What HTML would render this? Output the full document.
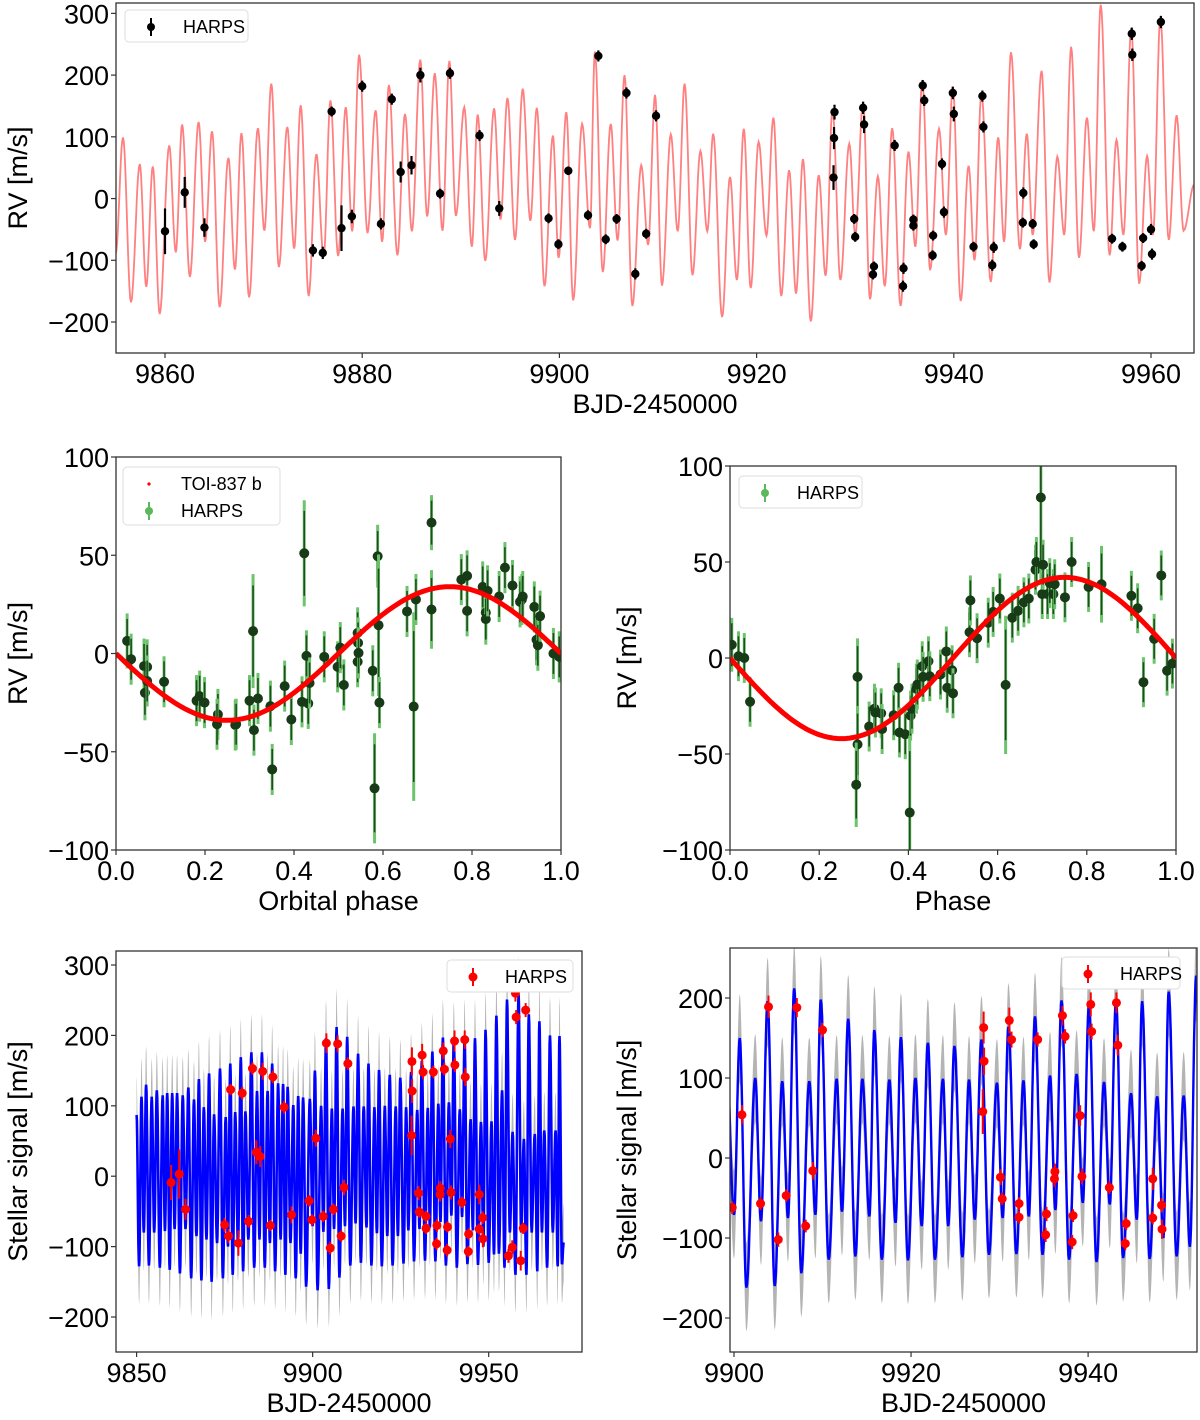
<!DOCTYPE html>
<html><head><meta charset="utf-8"><title>TOI-837 RV figure</title>
<style>
html,body{margin:0;padding:0;background:#fff;}
svg{display:block;font-family:"Liberation Sans",sans-serif;}
</style></head>
<body>
<svg id="fig" width="1200" height="1420" viewBox="0 0 1200 1420" xmlns="http://www.w3.org/2000/svg"></svg>
<script>
// ---------- DATA ----------
// Top panel: HARPS RVs
const rvT = [9860.0,9862.0,9864.0,9875.0,9876.0,9876.9,9877.9,9878.95,9880.0,9881.9,9883.0,9883.9,9885.0,9885.9,9887.9,9888.9,9891.9,9893.9,9898.9,9899.9,9900.9,9902.9,9903.95,9904.7,9905.8,9906.8,9907.7,9908.8,9909.8,9927.9,9927.85,9927.8,9929.9,9930.0,9930.8,9930.9,9931.9,9931.8,9934.0,9934.9,9934.85,9935.9,9935.9,9936.85,9937.0,9937.9,9937.85,9938.8,9939.0,9939.9,9940.0,9942.0,9942.9,9943.0,9943.9,9944.05,9947.05,9947.0,9948.0,9948.1,9956.05,9957.1,9958.05,9958.1,9959.05,9959.2,9960.0,9960.1,9961.0];
const rvV = [-53,10,-47,-84,-88,141,-48,-29,182,-41,161,43,54,200,8,203,102,-16,-32,-74,45,-27,231,-66,-33,171,-122,-57,134,140,98,34,-33,-62,147,120,-110,-123,86,-113,-142,-34,-44,183,159,-60,-92,56,-22,171,137,-78,166,116,-108,-79,9,-39,-41,-74,-65,-78,267,233,-109,-64,-50,-90,286];
const rvE = [37,25,15,10,10,8,37,11,9,9,9,17,15,12,8,9,9,12,8,8,7,8,9,8,8,9,9,8,9,12,18,20,8,8,10,14,8,8,9,9,9,8,8,9,9,8,8,9,9,10,12,8,9,9,9,9,9,8,8,8,8,8,10,10,8,8,9,9,10];
// Top panel: model curve extrema (time, value)
const modelT = [9855.0,9855.74,9856.55,9857.44,9858.1,9858.76,9859.46,9860.43,9861.09,9861.74,9862.52,9863.41,9864.07,9864.77,9865.54,9866.43,9867.09,9867.75,9868.53,9869.42,9870.08,9870.78,9871.55,9872.4,9873.1,9873.76,9874.57,9875.35,9876.09,9876.78,9877.56,9878.33,9878.99,9879.69,9880.54,9881.36,9882.02,9882.71,9883.57,9884.34,9885.04,9885.89,9886.59,9887.36,9888.14,9888.84,9889.5,9890.35,9891.12,9891.71,9892.48,9893.37,9894.03,9894.73,9895.5,9896.28,9897.05,9897.71,9898.49,9899.34,9899.92,9900.7,9901.4,9902.3,9903.1,9903.6,9904.4,9905.2,9905.9,9906.6,9907.4,9908.3,9909.0,9909.7,9910.4,9911.3,9912.0,9912.7,9913.5,9914.3,9915.0,9915.6,9916.5,9917.3,9918.0,9918.7,9919.4,9920.2,9921.0,9921.7,9922.5,9923.3,9924.0,9924.7,9925.5,9926.3,9927.0,9927.7,9928.5,9929.4,9930.0,9930.8,9931.5,9932.3,9933.0,9933.75,9934.6,9935.4,9936.1,9936.8,9937.6,9938.5,9939.2,9939.9,9940.7,9941.5,9942.1,9942.8,9943.75,9944.5,9945.1,9945.8,9946.7,9947.4,9948.0,9948.9,9949.7,9950.5,9951.2,9951.9,9952.7,9953.5,9954.2,9954.9,9955.8,9956.5,9957.2,9958.0,9958.8,9959.6,9960.2,9960.95,9961.8,9962.6,9963.3,9964.4];
const modelV = [-89,99,-168,56,-143,52,-187,86,-87,120,-127,124,-70,109,-176,66,-115,106,-160,114,-52,186,-111,116,-81,151,-158,72,-95,159,-93,148,-53,233,-56,143,-70,184,-92,137,-53,225,-29,203,-52,223,-28,148,-78,136,-101,146,-34,163,-67,178,-36,147,-142,102,-96,140,-165,121,-48,238,-119,121,-68,200,-174,54,-75,168,-141,104,-53,186,-124,77,-53,105,-192,35,-132,113,-145,92,-60,131,-158,46,-154,64,-199,38,-125,145,-132,89,-59,156,-163,36,-142,114,-174,76,-78,192,-116,113,-59,182,-166,53,-100,170,-135,99,-70,237,-82,105,-59,207,-136,68,-59,246,-96,131,-53,314,-92,95,-59,276,-138,69,-59,293,-67,135,-52,23];
const topXTicks = [9860,9880,9900,9920,9940,9960];
const topYTicks = [-200,-100,0,100,200,300];

// Middle-left: phase-folded TOI-837 b
const ph1 = [0.025,0.034,0.063,0.065,0.07,0.07,0.108,0.181,0.188,0.199,0.229,0.227,0.268,0.27,0.30,0.308,0.31,0.319,0.351,0.347,0.379,0.394,0.423,0.418,0.428,0.432,0.435,0.468,0.498,0.504,0.512,0.543,0.544,0.543,0.545,0.577,0.581,0.588,0.59,0.592,0.654,0.669,0.674,0.709,0.709,0.776,0.789,0.789,0.824,0.831,0.831,0.835,0.861,0.874,0.891,0.908,0.912,0.914,0.94,0.945,0.948,0.953,0.983,0.996];
const ph1V = [6.4,-2.9,-6.4,-20,-6.8,-14,-14.4,-24,-21.7,-25,-31,-36,-36.4,-36,-24,11.4,-39,-22.9,-59,-26.8,-16.6,-33.6,51,-24.6,-1.2,-25.4,-15,-1.7,-6.8,3,-16,10.5,5.4,-4.2,0.3,-8.8,-68.6,49.5,14.4,-25,21.4,-27,27.5,66.6,22.4,37.6,39.5,21.7,33.9,20.8,17.5,31.9,29,43.7,34.6,26.3,27.5,29,23.7,7,4.2,19,0,-1.7];
const ph1E = [14,13,14,14,14,13,13,13,13,13,13,13,13,13,13,29,13,13,13,13,13,13,27,13,13,13,13,13,13,13,13,13,13,13,13,13,28,16,36,13,13,48,13,14,20,13,13,13,13,13,13,13,13,13,13,13,13,13,13,13,13,13,13,13];
const planetK1 = [34];
const phaseTicks = [0.0,0.2,0.4,0.6,0.8,1.0];
const phaseLabels = ["0.0","0.2","0.4","0.6","0.8","1.0"];
const midYTicks = [-100,-50,0,50,100];

// Middle-right: phase-folded
const ph2 = [0.004,0.019,0.032,0.045,0.286,0.286,0.283,0.312,0.324,0.326,0.339,0.341,0.367,0.378,0.38,0.393,0.403,0.405,0.408,0.418,0.42,0.431,0.433,0.445,0.448,0.472,0.485,0.487,0.498,0.5,0.537,0.539,0.554,0.579,0.59,0.605,0.618,0.633,0.646,0.659,0.67,0.685,0.687,0.697,0.7,0.702,0.712,0.717,0.725,0.728,0.751,0.766,0.804,0.833,0.9,0.914,0.951,0.967,0.927,0.98,0.992];
const ph2V = [6.9,0.9,0,-22.8,-9.8,-45,-66,-35.7,-26.4,-28.4,-28.8,-37,-29.8,-15.5,-38.8,-39.7,-80.5,-30,-26.4,-16,-13.8,-4.3,-9.8,-1.7,-9.5,-8.6,3.4,-15.5,-6.4,-18.4,13.4,30,10.3,18.4,24,31,-14,21,24.6,29,31,46,50,83.6,33.3,48.6,33.3,39,33.3,38.4,31.6,50,37,38.4,32.4,25.9,10,43,-12.6,-6.6,-2.9];
const ph2E = [14,13,13,13,20,20,22,13,13,13,13,13,13,13,13,13,40,13,13,13,13,13,13,13,13,13,13,13,13,13,13,13,13,13,13,13,36,13,13,13,13,13,13,45,13,13,13,13,13,13,13,13,13,20,13,13,13,13,13,13,13];
const planetK2 = [42];

// Bottom: stellar signal model extrema (time, value) and HARPS stellar residuals
const starT = [9850.0,9850.7,9851.4,9852.05,9852.7,9853.5,9854.3,9855.0,9855.75,9856.6,9857.4,9858.05,9858.7,9859.4,9860.1,9860.8,9861.5,9862.3,9863.1,9863.9,9864.7,9865.5,9866.3,9867.0,9867.7,9868.4,9869.1,9869.85,9870.6,9871.3,9872.0,9872.85,9873.7,9874.5,9875.3,9875.95,9876.6,9877.3,9878.0,9878.8,9879.6,9880.25,9880.9,9881.75,9882.6,9883.4,9884.2,9884.9,9885.6,9886.4,9887.2,9887.85,9888.5,9889.35,9890.2,9890.9,9891.6,9892.25,9892.9,9893.7,9894.5,9895.2,9895.9,9896.6,9897.3,9898.15,9899.2,9900.0,9900.65,9901.4,9902.4,9903.05,9903.8,9904.6,9905.45,9906.1,9906.8,9907.6,9908.5,9909.2,9909.8,9910.7,9911.6,9912.2,9912.9,9913.7,9914.5,9915.3,9915.85,9916.7,9917.55,9918.25,9918.85,9919.65,9920.5,9921.2,9921.9,9922.7,9923.6,9924.2,9924.9,9925.8,9926.55,9927.2,9927.95,9928.8,9929.7,9930.35,9931.0,9931.9,9932.7,9933.3,9934.0,9934.85,9935.7,9936.3,9937.0,9937.85,9938.7,9939.4,9940.1,9940.95,9941.8,9942.45,9943.15,9943.95,9944.85,9945.5,9946.1,9946.95,9947.8,9948.5,9949.1,9950.0,9950.8,9951.5,9952.2,9952.9,9953.8,9954.5,9955.2,9956.0,9956.8,9957.6,9958.5,9959.2,9960.0,9960.7,9961.4,9962.2,9963.1,9963.8,9964.4,9965.1,9965.8,9966.6,9967.4,9968.2,9969.0,9969.6,9970.1,9970.8,9971.3];
const starV = [87,-128,113,-80,130,-127,113,-80,122,-130,115,-78,118,-133,118,-75,118,-138,115,-75,126,-145,109,-85,138,-148,98,-90,146,-150,88,-95,153,-145,84,-100,160,-140,91,-95,169,-135,92,-90,176,-130,121,-90,176,-130,121,-95,160,-135,132,-90,131,-140,127,-95,101,-145,114,-110,112,-157,110,-71,150,-162,100,-79,196,-160,96,-75,212,-144,96,-71,198,-127,99,-67,174,-123,99,-73,160,-127,98,-81,151,-128,100,-85,144,-127,99,-85,140,-124,98,-77,148,-121,94,-75,164,-120,97,-73,177,-121,103,-65,197,-127,105,-56,193,-130,95,-58,197,-125,81,-77,196,-126,77,-100,208,-123,78,-111,228,-110,122,-130,251,-80,63,-140,258,-80,53,-140,230,-80,60,-135,220,-80,65,-130,200,-80,65,-128,199,-125,-94];
const gpSigma = [55];
const resT = [9859.8,9862.1,9863.9,9875.0,9876.1,9876.7,9878.9,9880.0,9881.8,9882.9,9884.0,9885.1,9885.8,9888.0,9888.7,9891.9,9894.0,9899.0,9899.8,9900.9,9903.0,9903.9,9905.0,9905.9,9907.1,9908.1,9908.9,9910.0,9928.2,9928.25,9928.1,9930.1,9930.3,9931.1,9931.35,9932.2,9932.2,9934.3,9935.3,9935.2,9936.2,9936.25,9937.1,9937.4,9938.3,9938.2,9939.1,9939.3,9940.3,9940.4,9942.4,9943.2,9943.35,9944.3,9944.2,9947.3,9947.3,9948.3,9948.35,9955.6,9956.7,9957.6,9957.8,9959.1,9959.8,9960.5];
const resV = [-9,3,-47,-69,-85,123,-95,118,-64,153,34,28,149,-70,141,98,-55,-35,-62,54,-57,189,-102,-47,188,-85,-16,160,163,121,58,-24,-51,172,148,-57,-74,148,-70,-96,-26,-17,178,152,-72,-105,53,-23,192,158,-37,194,141,-82,-107,-26,-75,-59,-89,-113,-101,260,226,-120,-74,236];
const resE = [25,35,15,10,10,8,18,9,9,9,17,15,12,8,9,9,12,8,8,12,8,14,9,8,12,8,11,9,20,17,28,10,8,16,10,8,8,9,9,9,10,10,12,9,8,9,13,10,15,10,8,13,13,8,8,14,8,9,12,10,10,12,10,14,8,10];
const blXTicks = [9850,9900,9950];
const blYTicks = [-200,-100,0,100,200,300];
const brXTicks = [9900,9920,9940];
const brYTicks = [-200,-100,0,100,200];

// ---------- DRAWING ----------
const NS = "http://www.w3.org/2000/svg";
const svg = document.getElementById('fig');
function mk(tag, parent){ const e=document.createElementNS(NS,tag); parent.appendChild(e); return e; }
function fmt(v){ return (v<0?"\u2212":"")+Math.abs(v); }

function makePanel(p){
  p.sx = v => p.left + (v - p.xmin)/(p.xmax - p.xmin)*(p.right - p.left);
  p.sy = v => p.bottom - (v - p.ymin)/(p.ymax - p.ymin)*(p.bottom - p.top);
  const g = mk('g', svg);
  
  
  p.g = g;
  const cp = mk('clipPath', g); cp.setAttribute('id', p.name+'-clip');
  const cr = mk('rect', cp);
  cr.setAttribute('x', p.left); cr.setAttribute('y', p.top);
  cr.setAttribute('width', p.right-p.left); cr.setAttribute('height', p.bottom-p.top);
  const plot = mk('g', g);
  plot.setAttribute('clip-path', 'url(#'+p.name+'-clip)');
  
  
  p.plot = plot;
  return p;
}
function drawAxes(p){
  const g = p.g;
  const fr = mk('rect', g);
  
  
  fr.setAttribute('x', p.left); fr.setAttribute('y', p.top);
  fr.setAttribute('width', p.right-p.left); fr.setAttribute('height', p.bottom-p.top);
  fr.setAttribute('fill', 'none'); fr.setAttribute('stroke', '#333'); fr.setAttribute('stroke-width', '1.3');
  p.xticks.forEach((v,i)=>{
    const x = p.sx(v);
    const t = mk('line', g);
    
    
    t.setAttribute('x1', x); t.setAttribute('x2', x); t.setAttribute('y1', p.bottom); t.setAttribute('y2', p.bottom+5);
    t.setAttribute('stroke', '#333'); t.setAttribute('stroke-width', '1.2');
    const tx = mk('text', g);
    
    
    tx.setAttribute('x', x); tx.setAttribute('y', p.bottom+30);
    tx.setAttribute('text-anchor', 'middle'); tx.setAttribute('font-size', '27');
    tx.textContent = p.xlabels ? p.xlabels[i] : fmt(v);
  });
  p.yticks.forEach(v=>{
    const y = p.sy(v);
    const t = mk('line', g);
    
    
    t.setAttribute('x1', p.left-5); t.setAttribute('x2', p.left); t.setAttribute('y1', y); t.setAttribute('y2', y);
    t.setAttribute('stroke', '#333'); t.setAttribute('stroke-width', '1.2');
    const tx = mk('text', g);
    
    
    tx.setAttribute('x', p.left-7); tx.setAttribute('y', y+10);
    tx.setAttribute('text-anchor', 'end'); tx.setAttribute('font-size', '27');
    tx.textContent = fmt(v);
  });
  const xl = mk('text', g);
  
  
  xl.setAttribute('x', (p.left+p.right)/2); xl.setAttribute('y', p.bottom+60);
  xl.setAttribute('text-anchor', 'middle'); xl.setAttribute('font-size', '27');
  xl.textContent = p.xtitle;
  const yl = mk('text', g);
  
  
  const cy = (p.top+p.bottom)/2 + (p.ytOff||0);
  yl.setAttribute('transform', 'translate('+p.ytx+','+cy+') rotate(-90)');
  yl.setAttribute('text-anchor', 'middle'); yl.setAttribute('font-size', '27');
  yl.textContent = p.ytitle;
}
function cosCurve(T, V, n){
  const pts = [];
  for(let i=0;i<T.length-1;i++){
    for(let k=0;k<n;k++){
      const f = k/n;
      pts.push([T[i]+(T[i+1]-T[i])*f, V[i]+(V[i+1]-V[i])*(1-Math.cos(Math.PI*f))/2]);
    }
  }
  pts.push([T[T.length-1], V[V.length-1]]);
  return pts;
}
function pathFrom(p, pts, dy){
  return pts.map((q,i)=>(i?'L':'M')+p.sx(q[0]).toFixed(1)+','+p.sy(q[1]+(dy||0)).toFixed(1)).join('');
}
function errPoints(p, X, Y, E, o){
  X.forEach((x,i)=>{
    const cx = p.sx(x), cy = p.sy(Y[i]);
    const grp = mk('g', p.plot);
    
    
    if(o.bar2){
      const b2 = mk('line', grp);
      b2.setAttribute('x1', cx); b2.setAttribute('x2', cx);
      b2.setAttribute('y1', p.sy(Y[i]-E[i])); b2.setAttribute('y2', p.sy(Y[i]+E[i]));
      b2.setAttribute('stroke', o.bar2); b2.setAttribute('stroke-width', o.bw2);
    }
    const b = mk('line', grp);
    b.setAttribute('x1', cx); b.setAttribute('x2', cx);
    b.setAttribute('y1', p.sy(Y[i]-E[i]*(o.bar2?0.8:1))); b.setAttribute('y2', p.sy(Y[i]+E[i]*(o.bar2?0.8:1)));
    b.setAttribute('stroke', o.bar); b.setAttribute('stroke-width', o.bw);
    const c = mk('circle', grp);
    c.setAttribute('cx', cx); c.setAttribute('cy', cy); c.setAttribute('r', o.r);
    c.setAttribute('fill', o.fill);
  });
}
function legend(p, x, y, w, h, entries){
  const g = mk('g', p.g);
  
  
  const r = mk('rect', g);
  r.setAttribute('x', x); r.setAttribute('y', y); r.setAttribute('width', w); r.setAttribute('height', h);
  r.setAttribute('rx', 4); r.setAttribute('fill', '#fff'); r.setAttribute('stroke', '#ddd');
  entries.forEach((e,i)=>{
    const ey = y + 17 + i*27;
    const eg = mk('g', g);
    
    
    if(e.bar){
      const l = mk('line', eg);
      l.setAttribute('x1', x+26); l.setAttribute('x2', x+26); l.setAttribute('y1', ey-9); l.setAttribute('y2', ey+9);
      l.setAttribute('stroke', e.bar); l.setAttribute('stroke-width', 2);
    }
    const c = mk('circle', eg);
    c.setAttribute('cx', x+26); c.setAttribute('cy', ey); c.setAttribute('r', e.r); c.setAttribute('fill', e.color);
    const t = mk('text', eg);
    t.setAttribute('x', x+58); t.setAttribute('y', ey+6); t.setAttribute('font-size', '18');
    t.textContent = e.label;
  });
}

// Panel 1: RV time series
const P1 = makePanel({name:'rv-time-panel', left:116, right:1194, top:3, bottom:353, xmin:9855.03, xmax:9964.36, ymin:-250.2, ymax:316.8,
  xticks:topXTicks, yticks:topYTicks, xtitle:'BJD-2450000', ytitle:'RV [m/s]', ytx:27});
const m1 = mk('path', P1.plot);


m1.setAttribute('d', pathFrom(P1, cosCurve(modelT, modelV, 10)));
m1.setAttribute('fill', 'none'); m1.setAttribute('stroke', '#ff8080'); m1.setAttribute('stroke-width', '1.8');
errPoints(P1, rvT, rvV, rvE, {bar:'#000', bw:2.2, r:4.2, fill:'#000'});
drawAxes(P1);
legend(P1, 125, 10, 123, 32, [{label:'HARPS', color:'#000', r:4, bar:'#000'}]);

// Panel 2 & 3: phase folded
function phasePanel(cfg, ph, V, E, K){
  const P = makePanel(cfg);
  const pts = [];
  for(let i=0;i<=200;i++){ const f=i/200; pts.push([f, -K[0]*Math.sin(2*Math.PI*f)]); }
  errPoints(P, ph, V, E, {bar:'#1e4d1e', bw:1.6, bar2:'#6cc36c', bw2:3, r:5, fill:'#173a17'});
  const m = mk('path', P.plot);
  
  
  m.setAttribute('d', pathFrom(P, pts));
  m.setAttribute('fill', 'none'); m.setAttribute('stroke', '#ff0000'); m.setAttribute('stroke-width', '5');
  drawAxes(P);
  return P;
}
const P2 = phasePanel({name:'orbital-phase-panel', left:116, right:561, top:457, bottom:850, xmin:0, xmax:1, ymin:-100, ymax:100,
  xticks:phaseTicks, xlabels:phaseLabels, yticks:midYTicks, xtitle:'Orbital phase', ytitle:'RV [m/s]', ytx:27}, ph1, ph1V, ph1E, planetK1);
legend(P2, 123, 467, 157, 58, [{label:'TOI-837 b', color:'#ff0000', r:1.6}, {label:'HARPS', color:'#5cb85c', r:4, bar:'#5cb85c'}]);
const P3 = phasePanel({name:'phase-panel', left:730, right:1176, top:466, bottom:850, xmin:0, xmax:1, ymin:-100, ymax:100,
  xticks:phaseTicks, xlabels:phaseLabels, yticks:midYTicks, xtitle:'Phase', ytitle:'RV [m/s]', ytx:636}, ph2, ph2V, ph2E, planetK2);
legend(P3, 739, 476, 123, 32, [{label:'HARPS', color:'#5cb85c', r:4, bar:'#5cb85c'}]);

// Panel 4 & 5: stellar signal
function stellarPanel(cfg, lw, n){
  const P = makePanel(cfg);
  const pts = cosCurve(starT, starV, n);
  const up = pts.map(q=>[q[0], q[1]+gpSigma[0]]);
  const lo = pts.map(q=>[q[0], q[1]-gpSigma[0]]).reverse();
  const band = mk('path', P.plot);
  
  
  band.setAttribute('d', pathFrom(P, up) + pathFrom(P, lo).replace(/^M/, 'L') + 'Z');
  band.setAttribute('fill', '#b4b4b4'); band.setAttribute('stroke', 'none');
  const line = mk('path', P.plot);
  
  
  line.setAttribute('d', pathFrom(P, pts));
  line.setAttribute('fill', 'none'); line.setAttribute('stroke', '#0000ff'); line.setAttribute('stroke-width', lw);
  errPoints(P, resT, resV, resE, {bar:'#ff0000', bw:2, r:4.5, fill:'#ff0000'});
  drawAxes(P);
  return P;
}
const P4 = stellarPanel({name:'stellar-signal-full-panel', left:116, right:582, top:951, bottom:1352, xmin:9844.15, xmax:9976.5, ymin:-249.7, ymax:319.9,
  xticks:blXTicks, yticks:blYTicks, xtitle:'BJD-2450000', ytitle:'Stellar signal [m/s]', ytx:27}, 2.6, 8);
legend(P4, 447, 960, 126, 32, [{label:'HARPS', color:'#ff0000', r:4.5, bar:'#ff0000'}]);
const P5 = stellarPanel({name:'stellar-signal-zoom-panel', left:730, right:1197, top:948, bottom:1352, xmin:9899.55, xmax:9952.3, ymin:-242.5, ymax:262.5,
  xticks:brXTicks, yticks:brYTicks, xtitle:'BJD-2450000', ytitle:'Stellar signal [m/s]', ytx:636}, 2.4, 12);
legend(P5, 1062, 957, 118, 32, [{label:'HARPS', color:'#ff0000', r:4.5, bar:'#ff0000'}]);
</script>
</body></html>
